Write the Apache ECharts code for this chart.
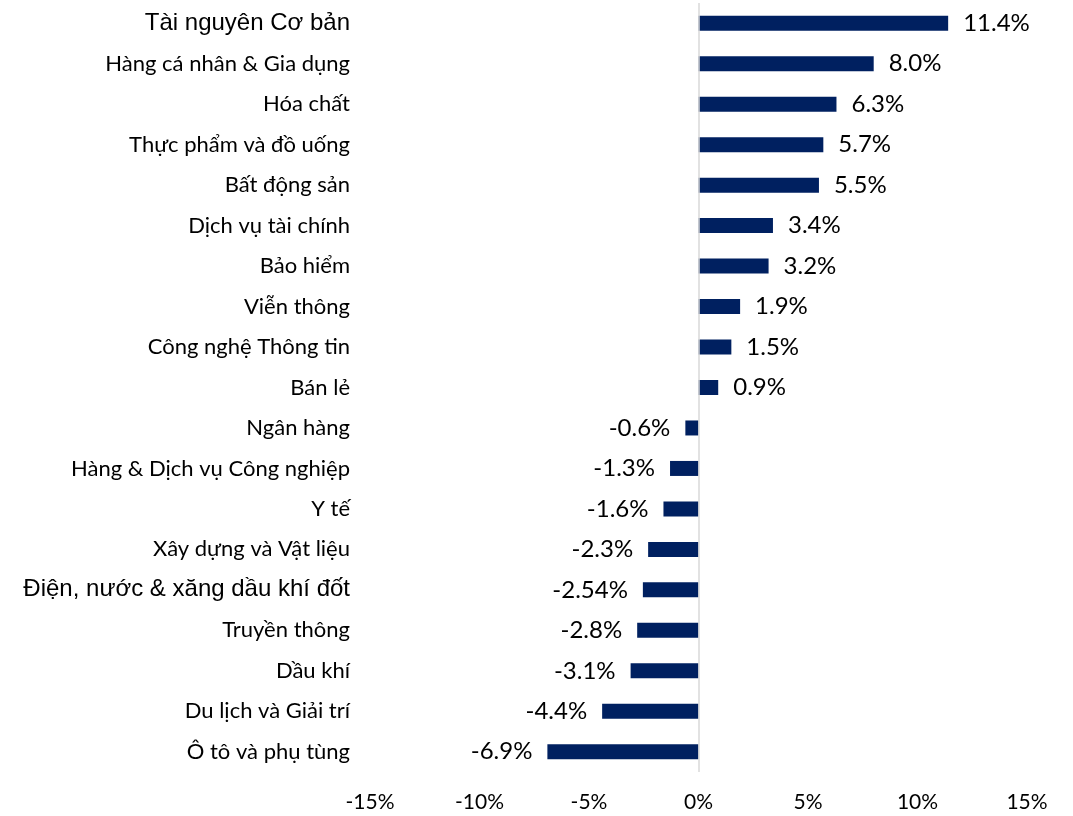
<!DOCTYPE html>
<html>
<head>
<meta charset="utf-8">
<script src="https://cdn.jsdelivr.net/npm/echarts@6/dist/echarts.min.js"></script>
<style>
html,body{margin:0;padding:0;background:#fff;}
#chart{width:1073px;height:816px;}
</style>
</head>
<body>
<div id="chart"></div>
<script>
const categories = [
  "Tài nguyên Cơ bản",
  "Hàng cá nhân & Gia dụng",
  "Hóa chất",
  "Thực phẩm và đồ uống",
  "Bất động sản",
  "Dịch vụ tài chính",
  "Bảo hiểm",
  "Viễn thông",
  "Công nghệ Thông tin",
  "Bán lẻ",
  "Ngân hàng",
  "Hàng & Dịch vụ Công nghiệp",
  "Y tế",
  "Xây dựng và Vật liệu",
  "Điện, nước & xăng dầu khí đốt",
  "Truyền thông",
  "Dầu khí",
  "Du lịch và Giải trí",
  "Ô tô và phụ tùng"
];
const values = [11.4, 8.0, 6.3, 5.7, 5.5, 3.4, 3.2, 1.9, 1.5, 0.9, -0.6, -1.3, -1.6, -2.3, -2.54, -2.8, -3.1, -4.4, -6.9];
const axisMin = -15, axisMax = 15, axisStep = 5;
const bigLabels = ["Tài nguyên Cơ bản", "Điện, nước & xăng dầu khí đốt"];

function fmt(v) {
  const one = Math.abs(v * 10 - Math.round(v * 10)) < 1e-9;
  return (one ? v.toFixed(1) : v.toFixed(2)) + '%';
}

const chart = echarts.init(document.getElementById('chart'), null, {renderer: 'canvas'});
chart.setOption({
  animation: false,
  backgroundColor: '#ffffff',
  grid: {left: 370, right: 46, top: 3, bottom: 44, containLabel: false},
  xAxis: {
    type: 'value', min: axisMin, max: axisMax, interval: axisStep,
    axisLine: {show: false}, axisTick: {show: false}, splitLine: {show: false},
    axisLabel: {formatter: v => v + '%', fontFamily: 'Lato', fontSize: 21, color: '#000', margin: 20}
  },
  yAxis: {
    type: 'category', data: categories, inverse: true,
    axisLine: {show: false, onZero: false}, axisTick: {show: false},
    axisLabel: {
      margin: 20, color: '#000', fontFamily: 'Lato', fontSize: 22,
      formatter: v => bigLabels.includes(v) ? '{big|' + v + '}' : v,
      rich: {big: {fontFamily: 'Liberation Sans', fontSize: 24, color: '#000'}}
    }
  },
  series: [{
    type: 'bar',
    data: values.map(v => ({
      value: v,
      label: {position: v >= 0 ? 'right' : 'left'}
    })),
    barWidth: 15,
    itemStyle: {color: '#002060'},
    label: {
      show: true, distance: 15, color: '#000', fontFamily: 'Lato', fontSize: 24,
      formatter: p => fmt(p.value)
    },
    markLine: {
      silent: true, symbol: 'none', label: {show: false},
      lineStyle: {color: '#d9d9d9', width: 1.5, type: 'solid'},
      data: [{xAxis: 0}]
    }
  }]
});
</script>
</body>
</html>
